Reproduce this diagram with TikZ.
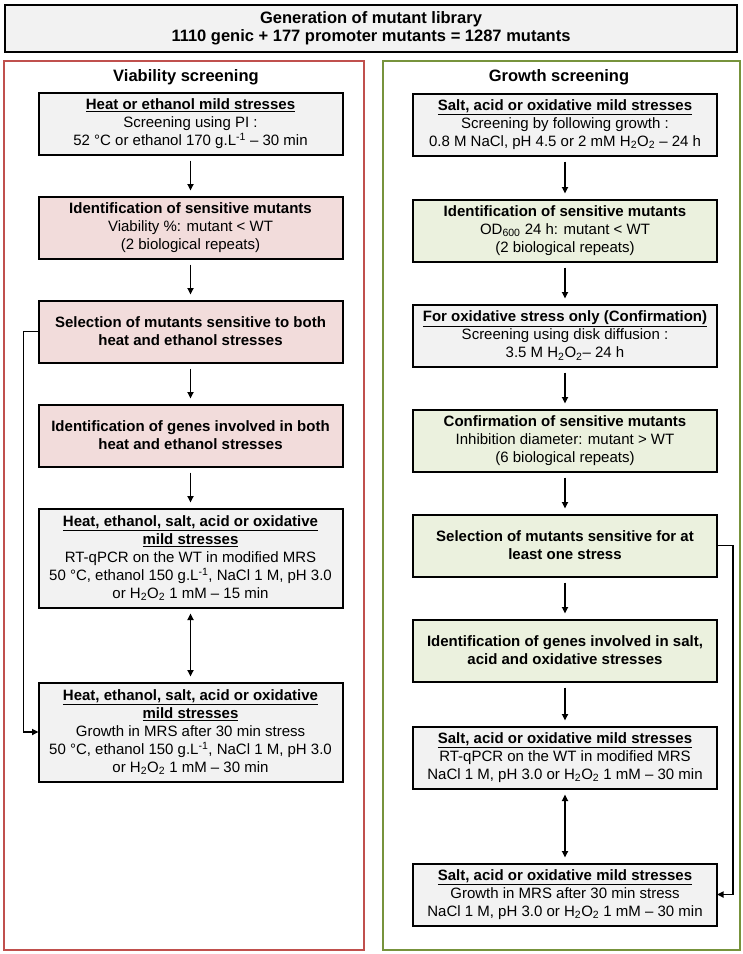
\documentclass[tikz,border=0pt]{standalone}
\usepackage{fontspec}
\setmainfont{Liberation Sans}
\usetikzlibrary{arrows.meta,positioning}
\definecolor{panelred}{HTML}{C0504D}
\definecolor{panelgreen}{HTML}{77933C}
\definecolor{boxgrey}{HTML}{F2F2F2}
\definecolor{boxpink}{HTML}{F2DCDB}
\definecolor{boxgreen}{HTML}{EBF1DE}

\begin{document}
\begin{tikzpicture}[
x=1pt, y=1pt,
node distance=42pt,
box/.style={draw, line width=2pt, align=center, minimum width=304pt, minimum height=62pt, inner sep=2pt, outer sep=0pt, font=\fontsize{15}{18}\selectfont},
greybox/.style={box, fill=boxgrey},
pinkbox/.style={box, fill=boxpink},
greenbox/.style={box, fill=boxgreen},
panel/.style={draw, line width=2pt, inner sep=0pt, minimum height=889pt},
title/.style={font=\bfseries\fontsize{16.5}{19}\selectfont},
arrow/.style={-{Triangle[length=6.5pt, width=6pt]}, line width=1.8pt, shorten >=6pt, shorten <=6pt},
dblarrow/.style={arrow, {Triangle[length=6.5pt, width=6pt]}-{Triangle[length=6.5pt, width=6pt]}},
link/.style={-{Triangle[length=6.5pt, width=6pt]}, line width=1.8pt}
]
\useasboundingbox (0,0) rectangle (743,-954);

\node[box, fill=boxgrey, minimum width=732pt, minimum height=47pt, font=\bfseries\fontsize{16.5}{18.5}\selectfont] (lib) at (371,-28.5) {Generation of mutant library\\1110 genic + 177 promoter mutants = 1287 mutants};

\node[panel, draw=panelred, minimum width=360pt] (viab) at (184,-505.5) {};
\node[panel, draw=panelgreen, minimum width=357pt] (growth) at (561.5,-505.5) {};
\node[title] (vtitle) at (186,-77) {Viability screening};
\node[title] (gtitle) at (559,-77) {Growth screening};

\node[greybox] (heat) at (190.5,-123.5) {\textbf{\underline{Heat or ethanol mild stresses}}\\Screening using PI :\\52 °C or ethanol 170 g.L\textsuperscript{-1} – 30 min};
\node[pinkbox, below=of heat] (idv) {\textbf{Identification of sensitive mutants}\\Viability \%: mutant < WT\\(2 biological repeats)};
\node[pinkbox, below=of idv, font=\bfseries\fontsize{15}{18}\selectfont] (selv) {Selection of mutants sensitive to both\\heat and ethanol stresses};
\node[pinkbox, below=of selv, font=\bfseries\fontsize{15}{18}\selectfont] (genv) {Identification of genes involved in both\\heat and ethanol stresses};
\node[greybox, below=of genv, minimum height=99pt] (rtv) {\textbf{\underline{Heat, ethanol, salt, acid or oxidative}}\\\textbf{\underline{mild stresses}}\\RT-qPCR on the WT in modified MRS\\50 °C, ethanol 150 g.L\textsuperscript{-1}, NaCl 1 M, pH 3.0\\or H\textsubscript{2}O\textsubscript{2} 1 mM – 15 min};
\node[greybox, below=75pt of rtv, minimum height=99pt] (grv) {\textbf{\underline{Heat, ethanol, salt, acid or oxidative}}\\\textbf{\underline{mild stresses}}\\Growth in MRS after 30 min stress\\50 °C, ethanol 150 g.L\textsuperscript{-1}, NaCl 1 M, pH 3.0\\or H\textsubscript{2}O\textsubscript{2} 1 mM – 30 min};

\node[greybox] (salt) at (565,-124.5) {\textbf{\underline{Salt, acid or oxidative mild stresses}}\\Screening by following growth :\\0.8 M NaCl, pH 4.5 or 2 mM H\textsubscript{2}O\textsubscript{2} – 24 h};
\node[greenbox, below=44pt of salt] (idg) {\textbf{Identification of sensitive mutants}\\OD\textsubscript{600} 24 h: mutant < WT\\(2 biological repeats)};
\node[greybox, below=43pt of idg] (oxi) {\textbf{\underline{For oxidative stress only (Confirmation)}}\\Screening using disk diffusion :\\3.5 M H\textsubscript{2}O\textsubscript{2}– 24 h};
\node[greenbox, below=43pt of oxi] (conf) {\textbf{Confirmation of sensitive mutants}\\Inhibition diameter: mutant > WT\\(6 biological repeats)};
\node[greenbox, below=43pt of conf, font=\bfseries\fontsize{15}{18}\selectfont] (selg) {Selection of mutants sensitive for at\\least one stress};
\node[greenbox, below=43pt of selg, font=\bfseries\fontsize{15}{18}\selectfont] (geng) {Identification of genes involved in salt,\\acid and oxidative stresses};
\node[greybox, below=45pt of geng] (rtg) {\textbf{\underline{Salt, acid or oxidative mild stresses}}\\RT-qPCR on the WT in modified MRS\\NaCl 1 M, pH 3.0 or H\textsubscript{2}O\textsubscript{2} 1 mM – 30 min};
\node[greybox, below=75pt of rtg] (grg) {\textbf{\underline{Salt, acid or oxidative mild stresses}}\\Growth in MRS after 30 min stress\\NaCl 1 M, pH 3.0 or H\textsubscript{2}O\textsubscript{2} 1 mM – 30 min};

\draw[arrow] (heat) -- (idv);
\draw[arrow] (idv) -- (selv);
\draw[arrow] (selv) -- (genv);
\draw[arrow] (genv) -- (rtv);
\draw[dblarrow] (rtv) -- (grv);
\draw[link] (selv.west) -- ++(-15,0) |- (grv.west);

\draw[arrow] (salt) -- (idg);
\draw[arrow] (idg) -- (oxi);
\draw[arrow] (oxi) -- (conf);
\draw[arrow] (conf) -- (selg);
\draw[arrow] (selg) -- (geng);
\draw[arrow] (geng) -- (rtg);
\draw[dblarrow] (rtg) -- (grg);
\draw[link] (selg.east) -- ++(16,0) |- (grg.east);
\end{tikzpicture}
\end{document}
